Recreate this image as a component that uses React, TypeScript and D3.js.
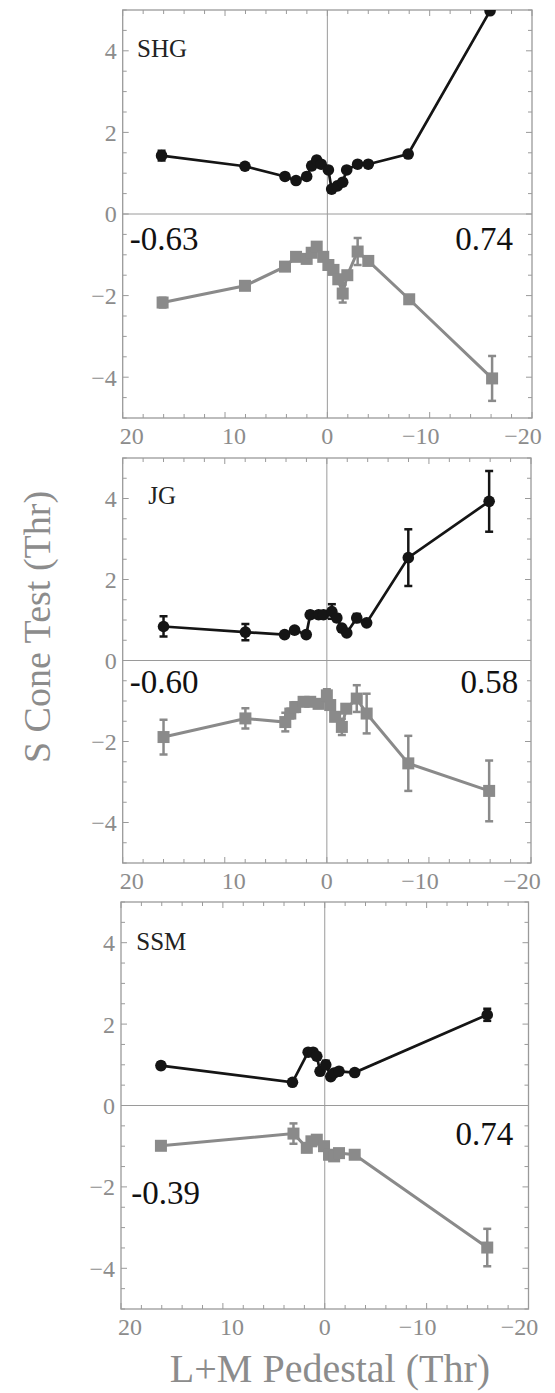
import React from "react";
import * as d3 from "d3";

// ---- data ----
const xTicks = [20, 10, 0, -10, -20];
const yTicks = [4, 2, 0, -2, -4];

const shgBlackX = [16.2, 8.05, 4.14, 3.06, 2.02, 1.53, 1.04, 0.6, -0.1, -0.42, -0.98, -1.5, -1.89, -2.96, -4.0, -7.9, -15.9];
const shgBlackY = [1.43, 1.17, 0.92, 0.82, 0.92, 1.18, 1.32, 1.22, 1.08, 0.61, 0.69, 0.78, 1.08, 1.22, 1.22, 1.47, 4.98];
const shgBlackErr = [0.12, 0.05, 0.05, 0.05, 0.05, 0.08, 0.08, 0.05, 0.05, 0.05, 0.05, 0.05, 0.05, 0.05, 0.06, 0.05, 0.05];
const shgGrayX = [16.1, 8.05, 4.14, 3.06, 2.02, 1.53, 1.04, 0.4, -0.1, -0.6, -1.07, -1.5, -1.95, -2.96, -4.0, -8.0, -16.1];
const shgGrayY = [-2.17, -1.76, -1.29, -1.05, -1.1, -0.95, -0.8, -1.05, -1.25, -1.37, -1.6, -1.95, -1.5, -0.92, -1.15, -2.09, -4.03];
const shgGrayErr = [0.12, 0.06, 0.05, 0.05, 0.1, 0.05, 0.08, 0.05, 0.05, 0.05, 0.1, 0.22, 0.08, 0.33, 0.05, 0.05, 0.55];

const jgBlackX = [16.0, 7.98, 4.14, 3.16, 2.02, 1.63, 0.81, 0.33, -0.49, -0.98, -1.47, -1.95, -2.93, -3.9, -7.98, -15.9];
const jgBlackY = [0.84, 0.7, 0.64, 0.75, 0.64, 1.13, 1.13, 1.13, 1.21, 1.05, 0.8, 0.68, 1.05, 0.93, 2.54, 3.93];
const jgBlackErr = [0.25, 0.2, 0.05, 0.05, 0.05, 0.08, 0.08, 0.08, 0.18, 0.08, 0.05, 0.05, 0.1, 0.05, 0.7, 0.75];
const jgGrayX = [16.0, 7.98, 4.07, 3.58, 3.1, 2.28, 1.63, 0.81, 0.0, -0.33, -0.81, -1.47, -1.9, -2.93, -3.9, -7.98, -15.9];
const jgGrayY = [-1.89, -1.43, -1.52, -1.31, -1.15, -1.02, -1.02, -1.07, -0.86, -1.1, -1.39, -1.64, -1.19, -0.94, -1.31, -2.54, -3.22];
const jgGrayErr = [0.43, 0.25, 0.23, 0.12, 0.12, 0.05, 0.05, 0.1, 0.15, 0.1, 0.1, 0.2, 0.08, 0.33, 0.49, 0.68, 0.75];

const ssmBlackX = [16.08, 3.17, 1.63, 1.14, 0.78, 0.46, -0.1, -0.59, -0.92, -1.4, -2.94, -15.95];
const ssmBlackY = [0.98, 0.57, 1.31, 1.31, 1.21, 0.84, 1.0, 0.71, 0.8, 0.84, 0.81, 2.23];
const ssmBlackErr = [0.08, 0.05, 0.05, 0.05, 0.08, 0.05, 0.1, 0.05, 0.05, 0.08, 0.05, 0.15];
const ssmGrayX = [16.08, 3.07, 1.76, 1.31, 0.78, 0.07, -0.42, -0.92, -1.4, -2.94, -15.95];
const ssmGrayY = [-0.99, -0.69, -1.04, -0.88, -0.84, -1.0, -1.21, -1.25, -1.17, -1.21, -3.49];
const ssmGrayErr = [0.08, 0.25, 0.1, 0.08, 0.08, 0.08, 0.1, 0.08, 0.08, 0.05, 0.46];

const zip = (xs, ys, es) => xs.map((x, i) => ({ x, y: ys[i], e: es[i] }));

const panels = [
  {
    name: "SHG", box: { l: 122.7, r: 532, t: 10, b: 418 },
    black: zip(shgBlackX, shgBlackY, shgBlackErr), gray: zip(shgGrayX, shgGrayY, shgGrayErr),
    nameAt: [18.6, 3.85], left: { text: "-0.63", at: [19.3, -0.88] }, right: { text: "0.74", at: [-18.15, -0.88] },
  },
  {
    name: "JG", box: { l: 122.7, r: 531, t: 458, b: 863 },
    black: zip(jgBlackX, jgBlackY, jgBlackErr), gray: zip(jgGrayX, jgGrayY, jgGrayErr),
    nameAt: [17.5, 3.86], left: { text: "-0.60", at: [19.3, -0.81] }, right: { text: "0.58", at: [-18.75, -0.81] },
  },
  {
    name: "SSM", box: { l: 121, r: 528.5, t: 902, b: 1309 },
    black: zip(ssmBlackX, ssmBlackY, ssmBlackErr), gray: zip(ssmGrayX, ssmGrayY, ssmGrayErr),
    nameAt: [18.5, 3.83], left: { text: "-0.39", at: [19.0, -2.41] }, right: { text: "0.74", at: [-18.5, -0.96] },
  },
];

const SERIF = "'Liberation Serif', 'DejaVu Serif', 'Times New Roman', serif";
const FRAME = "#9a9a9a";
const BLACK = "#151515";
const GRAY = "#8a8a8a";

const Panel = ({ p, idx }) => {
  const { l, r, t, b } = p.box;
  const x = d3.scaleLinear().domain([20, -20]).range([l, r]);
  const y = d3.scaleLinear().domain([-5, 5]).range([b, t]);
  const line = d3.line().x((d) => x(d.x)).y((d) => y(d.y));
  const clipId = `clip${idx}`;
  const fmt = (v) => (v < 0 ? "\u2212" + Math.abs(v) : String(v));

  const xMinor = d3.range(-20, 20.01, 2);
  const yMinor = d3.range(-5, 5.01, 0.5);

  const errBars = (data, color) =>
    data.map((d, i) => (
      <g key={i} stroke={color} strokeWidth={2.5}>
        <line x1={x(d.x)} x2={x(d.x)} y1={y(d.y - d.e)} y2={y(d.y + d.e)} />
        <line x1={x(d.x) - 4} x2={x(d.x) + 4} y1={y(d.y - d.e)} y2={y(d.y - d.e)} />
        <line x1={x(d.x) - 4} x2={x(d.x) + 4} y1={y(d.y + d.e)} y2={y(d.y + d.e)} />
      </g>
    ));

  return (
    <g>
      <defs>
        <clipPath id={clipId}>
          <rect x={l} y={t} width={r - l} height={b - t} />
        </clipPath>
      </defs>
      {/* zero axes */}
      <line x1={x(0)} x2={x(0)} y1={t} y2={b} stroke={FRAME} strokeWidth={1} />
      <line x1={l} x2={r} y1={y(0)} y2={y(0)} stroke={FRAME} strokeWidth={1} />

      {/* ticks */}
      <g stroke={FRAME} strokeWidth={1}>
        {xMinor.map((v) => {
          const len = v % 10 === 0 ? 6 : 4;
          return (
            <g key={"x" + v}>
              <line x1={x(v)} x2={x(v)} y1={b} y2={b - len} />
              <line x1={x(v)} x2={x(v)} y1={t} y2={t + len} />
            </g>
          );
        })}
        {yMinor.map((v) => {
          const len = v % 2 === 0 ? 6 : 4;
          return (
            <g key={"y" + v}>
              <line x1={l} x2={l + len} y1={y(v)} y2={y(v)} />
              <line x1={r} x2={r - len} y1={y(v)} y2={y(v)} />
            </g>
          );
        })}
      </g>
      <rect x={l} y={t} width={r - l} height={b - t} fill="none" stroke={FRAME} strokeWidth={1.3} />

      {/* tick labels */}
      <g fill="#8c8c8c" fontFamily={SERIF} fontSize={24}>
        {yTicks.map((v) => (
          <text key={"yl" + v} x={l - 6} y={y(v)} dy="0.35em" textAnchor="end">
            {fmt(v)}
          </text>
        ))}
        {xTicks.map((v) => (
          <text key={"xl" + v} x={x(v) + (v > 0 ? 9 : v < 0 ? -9 : 0)} y={b + 26} textAnchor="middle">
            {fmt(v)}
          </text>
        ))}
      </g>

      {/* data */}
      <g clipPath={`url(#${clipId})`}>
        <path d={line(p.gray)} fill="none" stroke={GRAY} strokeWidth={3} />
        {errBars(p.gray, GRAY)}
        {p.gray.map((d, i) => (
          <rect key={i} x={x(d.x) - 6} y={y(d.y) - 6} width={12} height={12} fill={GRAY} />
        ))}
        <path d={line(p.black)} fill="none" stroke={BLACK} strokeWidth={2.7} />
        {errBars(p.black, BLACK)}
        {p.black.map((d, i) => (
          <circle key={i} cx={x(d.x)} cy={y(d.y)} r={5.8} fill={BLACK} />
        ))}
      </g>

      {/* annotations */}
      <text x={x(p.nameAt[0])} y={y(p.nameAt[1])} fontFamily={SERIF} fontSize={25} fill="#222">
        {p.name}
      </text>
      <text x={x(p.left.at[0])} y={y(p.left.at[1])} fontFamily={SERIF} fontSize={33} fill="#111">
        {p.left.text}
      </text>
      <text x={x(p.right.at[0])} y={y(p.right.at[1])} fontFamily={SERIF} fontSize={33} fill="#111" textAnchor="end">
        {p.right.text}
      </text>
    </g>
  );
};

export default function App() {
  return (
    <svg
      width={555}
      height={1393}
      style={{ position: "absolute", left: 0, top: 0, background: "#fff" }}
    >
      <rect width={555} height={1393} fill="#fff" />
      {panels.map((p, i) => (
        <Panel key={p.name} p={p} idx={i} />
      ))}
      <text
        transform="translate(50,627) rotate(-90)"
        textAnchor="middle"
        fontFamily={SERIF}
        fontSize={38}
        fill="#8c8c8c"
      >
        S Cone Test (Thr)
      </text>
      <text x={330} y={1382} textAnchor="middle" fontFamily={SERIF} fontSize={40} fill="#8c8c8c">
        L+M Pedestal (Thr)
      </text>
    </svg>
  );
}
